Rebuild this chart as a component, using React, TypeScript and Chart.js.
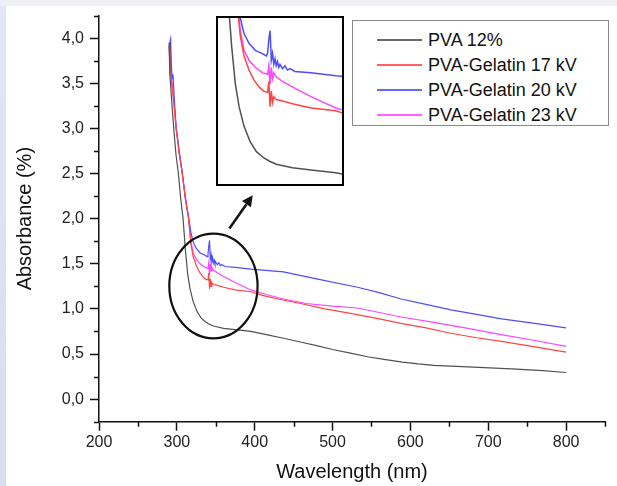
import { useEffect, useRef } from "react";
import { Chart, registerables } from "chart.js";

Chart.register(...registerables);

const FONT = "'Liberation Sans', Arial, Helvetica, sans-serif";

const seriesLabels = ["PVA 12%", "PVA-Gelatin 17 kV", "PVA-Gelatin 20 kV", "PVA-Gelatin 23 kV"];
const seriesColors = ["#505050", "#ff4444", "#4d4dff", "#ff44ff"];

// PVA 12%
const pvaNm = [290, 291, 293, 296, 299, 302, 305, 308, 311, 314, 317, 321, 326, 331, 337, 342, 347, 360, 375, 395, 415, 437, 460, 481, 500, 523, 545, 566, 590, 610, 630, 652, 695, 730, 770, 800];
const pvaAbs = [3.95, 3.6, 3.35, 3.0, 2.7, 2.5, 2.22, 2.0, 1.65, 1.38, 1.22, 1.08, 0.97, 0.9, 0.855, 0.83, 0.81, 0.785, 0.77, 0.75, 0.715, 0.675, 0.63, 0.59, 0.55, 0.51, 0.47, 0.44, 0.41, 0.39, 0.375, 0.365, 0.35, 0.335, 0.315, 0.295];

// PVA-Gelatin 17 kV
const g17Nm = [290, 291, 292, 294, 297, 299, 303, 307, 311, 315, 318, 321, 325, 329, 333, 337, 340, 341, 342, 343, 344, 345, 347, 352, 360, 375, 395, 410, 430, 459, 490, 523, 560, 588, 620, 652, 685, 717, 760, 800];
const g17Abs = [3.92, 3.75, 3.6, 3.45, 3.2, 3.0, 2.72, 2.5, 2.22, 2.0, 1.72, 1.58, 1.48, 1.41, 1.36, 1.33, 1.32, 1.4, 1.22, 1.33, 1.25, 1.29, 1.27, 1.26, 1.24, 1.21, 1.19, 1.15, 1.11, 1.06, 1.0, 0.95, 0.89, 0.84, 0.79, 0.73, 0.68, 0.64, 0.58, 0.52];

// PVA-Gelatin 20 kV
const g20Nm = [290, 291, 292, 293, 294, 295, 297, 299, 303, 307, 311, 315, 318, 321, 325, 330, 335, 339, 340, 341, 342, 343, 344, 345, 346, 347, 348, 349, 350, 352, 354, 356, 358, 362, 375, 395, 437, 481, 532, 560, 588, 620, 652, 685, 717, 760, 800];
const g20Abs = [3.85, 3.95, 3.99, 3.7, 3.55, 3.6, 3.3, 3.02, 2.75, 2.5, 2.22, 2.02, 1.85, 1.74, 1.67, 1.62, 1.6, 1.58, 1.6, 1.7, 1.76, 1.55, 1.6, 1.52, 1.56, 1.51, 1.54, 1.5, 1.52, 1.49, 1.51, 1.48, 1.49, 1.47, 1.46, 1.44, 1.41, 1.33, 1.24, 1.18, 1.11, 1.05, 0.99, 0.94, 0.89, 0.84, 0.79];

// PVA-Gelatin 23 kV
const g23Nm = [290, 291, 292, 294, 297, 299, 303, 307, 311, 315, 318, 321, 325, 330, 336, 340, 341, 342, 343, 344, 345, 347, 352, 360, 373, 385, 395, 415, 437, 466, 500, 532, 560, 588, 630, 674, 720, 760, 800];
const g23Abs = [3.8, 3.9, 3.7, 3.5, 3.22, 3.02, 2.74, 2.5, 2.24, 2.02, 1.76, 1.62, 1.55, 1.5, 1.46, 1.45, 1.51, 1.38, 1.5, 1.42, 1.46, 1.43, 1.4, 1.36, 1.3, 1.25, 1.21, 1.16, 1.11, 1.06, 1.03, 1.01, 0.96, 0.91, 0.85, 0.785, 0.71, 0.65, 0.585];

const seriesNm = [pvaNm, g17Nm, g20Nm, g23Nm];
const seriesAbs = [pvaAbs, g17Abs, g20Abs, g23Abs];

// axis ranges
const xMin = 200, xMax = 850, xStep = 50, xMajor = 100, xLabelMax = 800;
const yMin = -0.25, yMax = 4.25, yStep = 0.25, yMajor = 0.5;
// inset ranges (zoomed region)
const insetX = [300, 400];
const insetY = [0.67, 1.85];
// annotation: ellipse (data coords) and arrow
const ellipseC = { x: 347, y: 1.253, rx: 56.7, ry: 0.58 };
const arrowFrom = { x: 367.5, y: 1.89 };
const arrowTo = { x: 397.5, y: 2.26 };

const isMajor = (v: number, step: number) => Math.abs(v / step - Math.round(v / step)) < 1e-6;

function makeDatasets(width: number) {
  return seriesLabels.map((label, i) => ({
    label,
    data: seriesNm[i].map((x, j) => ({ x, y: seriesAbs[i][j] })),
    borderColor: seriesColors[i],
    backgroundColor: seriesColors[i],
    borderWidth: width,
    pointRadius: 0,
    tension: 0,
    fill: false,
  }));
}

const minorTicksPlugin = {
  id: "minorTicks",
  afterDraw(chart: any) {
    const { ctx, chartArea } = chart;
    const x = chart.scales.x;
    const y = chart.scales.y;
    ctx.save();
    ctx.strokeStyle = "#111";
    ctx.lineWidth = 1.5;
    ctx.beginPath();
    x.ticks.forEach((t: any) => {
      if (!isMajor(t.value, xMajor)) {
        const px = Math.round(x.getPixelForValue(t.value)) + 0.5;
        ctx.moveTo(px, chartArea.bottom);
        ctx.lineTo(px, chartArea.bottom + 5);
      }
    });
    y.ticks.forEach((t: any) => {
      if (!isMajor(t.value, yMajor)) {
        const py = Math.round(y.getPixelForValue(t.value)) + 0.5;
        ctx.moveTo(chartArea.left, py);
        ctx.lineTo(chartArea.left - 5, py);
      }
    });
    ctx.stroke();
    ctx.restore();
  },
};

const annotPlugin = {
  id: "annot",
  afterDatasetsDraw(chart: any) {
    const { ctx } = chart;
    const x = chart.scales.x;
    const y = chart.scales.y;
    ctx.save();
    ctx.strokeStyle = "#111";
    ctx.lineWidth = 2.2;
    const cx = x.getPixelForValue(ellipseC.x);
    const cy = y.getPixelForValue(ellipseC.y);
    const rx = x.getPixelForValue(ellipseC.x + ellipseC.rx) - cx;
    const ry = cy - y.getPixelForValue(ellipseC.y + ellipseC.ry);
    ctx.beginPath();
    ctx.ellipse(cx, cy, rx, ry, 0, 0, Math.PI * 2);
    ctx.stroke();
    // arrow
    const x1 = x.getPixelForValue(arrowFrom.x);
    const y1 = y.getPixelForValue(arrowFrom.y);
    const x2 = x.getPixelForValue(arrowTo.x);
    const y2 = y.getPixelForValue(arrowTo.y);
    const ang = Math.atan2(y2 - y1, x2 - x1);
    const hl = 11, hw = 5.5;
    const bx = x2 - hl * Math.cos(ang);
    const by = y2 - hl * Math.sin(ang);
    ctx.lineWidth = 2.5;
    ctx.beginPath();
    ctx.moveTo(x1, y1);
    ctx.lineTo(bx, by);
    ctx.stroke();
    ctx.fillStyle = "#111";
    ctx.beginPath();
    ctx.moveTo(x2, y2);
    ctx.lineTo(bx + hw * Math.sin(ang), by - hw * Math.cos(ang));
    ctx.lineTo(bx - hw * Math.sin(ang), by + hw * Math.cos(ang));
    ctx.closePath();
    ctx.fill();
    ctx.restore();
  },
};

export default function App() {
  const mainRef = useRef<HTMLCanvasElement>(null);
  const insetRef = useRef<HTMLCanvasElement>(null);

  useEffect(() => {
    const main = new Chart(mainRef.current as HTMLCanvasElement, {
      type: "line",
      data: { datasets: makeDatasets(1.2) as any },
      options: {
        animation: false,
        responsive: false,
        devicePixelRatio: 1,
        layout: { padding: { left: 0, right: 12, top: 10, bottom: 0 } },
        plugins: { legend: { display: false }, tooltip: { enabled: false } },
        scales: {
          x: {
            type: "linear",
            min: xMin,
            max: xMax,
            afterFit: (s: any) => {
              s.height = 64.3;
            },
            ticks: {
              stepSize: xStep,
              maxTicksLimit: 100,
              autoSkip: false,
              maxRotation: 0,
              minRotation: 0,
              includeBounds: false,
              padding: 2,
              color: "#222",
              font: { family: FONT, size: 16 },
              callback: (v: any) => (isMajor(Number(v), xMajor) && Number(v) <= xLabelMax ? String(v) : ""),
            },
            grid: {
              display: true,
              drawOnChartArea: false,
              drawTicks: true,
              tickLength: 9,
              tickWidth: 1.5,
              tickColor: (c: any) => (isMajor(c.tick.value, xMajor) ? "#111" : "rgba(0,0,0,0)"),
            },
            border: { display: true, color: "#111", width: 1.5 },
            title: {
              display: true,
              text: "Wavelength (nm)",
              color: "#111",
              font: { family: FONT, size: 20 },
              padding: { top: 0, bottom: 2 },
            },
          },
          y: {
            type: "linear",
            min: yMin,
            max: yMax,
            afterFit: (s: any) => {
              s.width = 99;
            },
            ticks: {
              stepSize: yStep,
              maxTicksLimit: 100,
              autoSkip: false,
              includeBounds: false,
              padding: 6,
              color: "#222",
              font: { family: FONT, size: 16 },
              callback: (v: any) => (isMajor(Number(v), yMajor) ? Number(v).toFixed(1).replace(".", ",") : ""),
            },
            grid: {
              display: true,
              drawOnChartArea: false,
              drawTicks: true,
              tickLength: 9,
              tickWidth: 1.5,
              tickColor: (c: any) => (isMajor(c.tick.value, yMajor) ? "#111" : "rgba(0,0,0,0)"),
            },
            border: { display: true, color: "#111", width: 1.5 },
            title: {
              display: true,
              text: "Absorbance (%)",
              color: "#111",
              font: { family: FONT, size: 20 },
              padding: { top: 13, bottom: 0 },
            },
          },
        },
      },
      plugins: [minorTicksPlugin, annotPlugin],
    } as any);

    const inset = new Chart(insetRef.current as HTMLCanvasElement, {
      type: "line",
      data: { datasets: makeDatasets(1.5) as any },
      options: {
        animation: false,
        responsive: false,
        devicePixelRatio: 1,
        layout: { padding: 0 },
        plugins: { legend: { display: false }, tooltip: { enabled: false } },
        scales: {
          x: { type: "linear", min: insetX[0], max: insetX[1], display: false },
          y: { type: "linear", min: insetY[0], max: insetY[1], display: false },
        },
      },
    } as any);

    return () => {
      main.destroy();
      inset.destroy();
    };
  }, []);

  const legendRowsCenter = [40, 65, 90, 115];

  return (
    <div
      style={{
        position: "absolute",
        left: 0,
        top: 0,
        width: 617,
        height: 486,
        background: "#fff",
        overflow: "hidden",
        fontFamily: FONT,
      }}
    >
      <div style={{ position: "absolute", left: 0, top: 0, width: 6, height: 486, background: "linear-gradient(#e4e6f4, #d9dcf0)" }} />
      <div style={{ position: "absolute", left: 0, top: 0, width: 617, height: 6, background: "#eef0f6" }} />
      <canvas
        ref={mainRef}
        width={617}
        height={486}
        style={{ position: "absolute", left: 0, top: 0, width: 617, height: 486 }}
      />
      <div
        style={{
          position: "absolute",
          left: 216,
          top: 16,
          width: 128,
          height: 170,
          border: "2px solid #000",
          boxSizing: "border-box",
          background: "#fff",
        }}
      >
        <canvas ref={insetRef} width={124} height={166} style={{ display: "block", width: 124, height: 166 }} />
      </div>
      <div
        style={{
          position: "absolute",
          left: 352,
          top: 20,
          width: 257,
          height: 106,
          border: "1px solid #8a8a8a",
          boxSizing: "border-box",
          background: "#fff",
        }}
      />
      {seriesLabels.map((label, i) => (
        <div key={label}>
          <div
            style={{
              position: "absolute",
              left: 377,
              top: legendRowsCenter[i] - 1,
              width: 45,
              height: 1.5,
              background: seriesColors[i],
              opacity: 0.85,
            }}
          />
          <div
            style={{
              position: "absolute",
              left: 428,
              top: legendRowsCenter[i] - 10,
              height: 20,
              lineHeight: "20px",
              fontSize: 18,
              color: "#111",
              whiteSpace: "nowrap",
            }}
          >
            {label}
          </div>
        </div>
      ))}
    </div>
  );
}
